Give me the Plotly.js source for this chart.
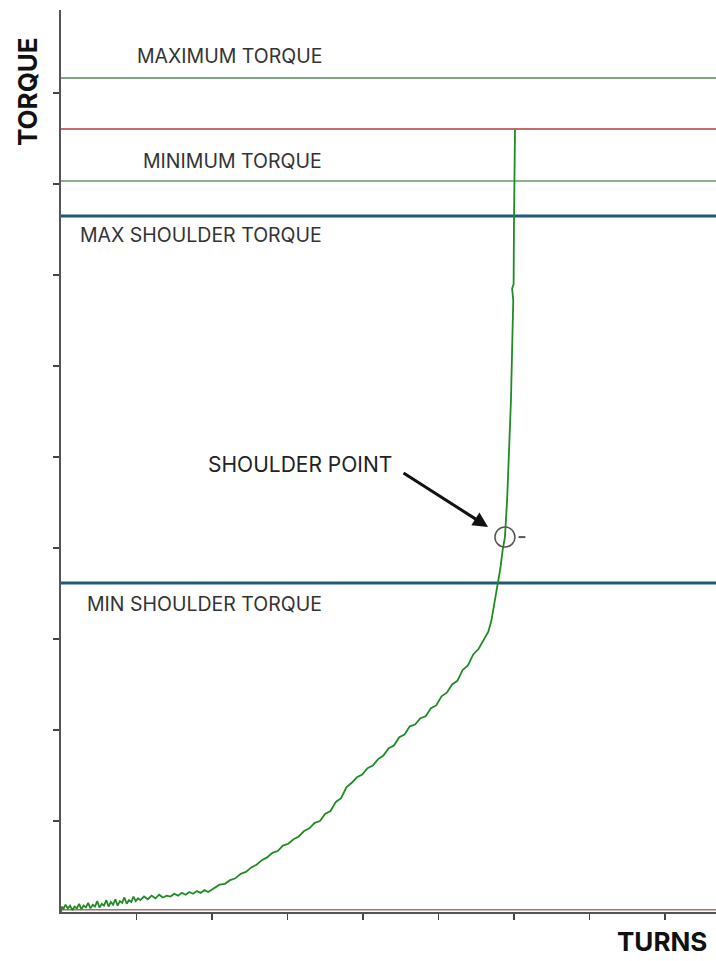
<!DOCTYPE html>
<html>
<head>
<meta charset="utf-8">
<script src="https://cdn.plot.ly/plotly-3.0.1.min.js"></script>
<style>html,body{margin:0;padding:0;background:#fff;}#chart{width:716px;height:961px;}</style>
</head>
<body>
<div id="chart"></div>
<script>
// Curve: turns vs torque
const turns = [
0.00,0.01,0.03,0.06,0.09,0.12,0.15,0.18,0.21,0.24,0.27,0.30,0.33,0.36,0.39,0.42,0.45,0.48,0.51,0.54,
0.57,0.60,0.63,0.66,0.69,0.72,0.75,0.78,0.81,0.84,0.87,0.90,0.93,0.96,0.99,1.02,1.05,
1.10,1.15,1.20,1.25,1.30,1.35,1.40,1.45,1.50,1.55,1.60,1.65,1.70,1.75,1.80,1.85,1.90,1.95,2.00,
2.05,2.10,2.17,2.24,2.31,2.38,2.45,2.52,2.59,2.66,2.73,2.80,2.87,2.94,3.01,3.08,3.15,3.22,3.29,3.36,
3.43,3.50,3.57,3.64,3.71,3.78,3.85,3.92,3.99,4.06,4.13,4.20,4.27,4.34,4.41,4.48,4.55,4.62,4.69,4.76,
4.83,4.90,4.97,5.04,5.11,5.18,5.25,5.32,5.39,5.46,5.53,5.60,5.66,5.70,5.74,5.78,5.82,5.85,5.88,
5.91,5.935,5.96,5.975,5.99,5.975,5.995,6.00,6.005,6.013
];
const torque = [
0.00,0.06,0.03,0.08,0.04,0.07,0.02,0.06,0.04,0.09,0.03,0.07,0.05,0.10,0.04,0.08,0.06,0.12,0.05,0.09,
0.07,0.13,0.06,0.11,0.08,0.14,0.07,0.12,0.10,0.16,0.09,0.13,0.11,0.17,0.12,0.15,0.13,
0.17,0.14,0.18,0.15,0.19,0.16,0.18,0.17,0.20,0.18,0.21,0.19,0.22,0.20,0.23,0.21,0.24,0.22,0.25,
0.27,0.30,0.31,0.35,0.37,0.42,0.44,0.49,0.52,0.57,0.60,0.65,0.67,0.73,0.75,0.80,0.83,0.89,0.92,0.98,
1.00,1.08,1.11,1.21,1.25,1.37,1.42,1.48,1.51,1.58,1.61,1.68,1.72,1.80,1.83,1.92,1.95,2.04,2.06,2.13,
2.15,2.24,2.27,2.37,2.41,2.50,2.54,2.66,2.71,2.83,2.89,3.00,3.08,3.20,3.38,3.56,3.78,3.98,4.12,
4.55,5.08,5.63,6.18,6.72,6.85,6.90,7.60,8.04,8.60
];

// Threshold levels (torque units)
const thresholdNames  = ["MAXIMUM TORQUE","FINAL TORQUE","MINIMUM TORQUE","MAX SHOULDER TORQUE","MIN SHOULDER TORQUE","BASELINE"];
const thresholdValues = [9.165, 8.604, 8.033, 7.648, 3.615, 0.025];

// Label positions (torque units)
const labelValues = [9.407, 8.253, 7.44, 3.385];
const labelTexts  = ["MAXIMUM TORQUE","MINIMUM TORQUE","MAX SHOULDER TORQUE","MIN SHOULDER TORQUE"];

// Shoulder point
const shoulderTurns = 5.88, shoulderTorque = 4.12;

const xTicks = [1,2,3,4,5,6,7,8];
const yTicks = [1,2,3,4,5,6,7,8,9];

const lineColors = ["#4f8a5c","#c46a6a","#5f9a6a","#1f5a7c","#1f5a7c","#b46a6a"];
const lineWidths = [1.5,2,1.5,3,3,1.5];

const shapes = thresholdValues.map((v,i)=>({
  type:'line', xref:'paper', yref:'y', x0:0, x1:1, y0:v, y1:v,
  line:{color:lineColors[i], width:lineWidths[i]}, layer:'below'
}));
shapes.push({
  type:'circle', xref:'x', yref:'y', xsizemode:'pixel', ysizemode:'pixel',
  xanchor:shoulderTurns, yanchor:shoulderTorque, x0:-10, x1:10, y0:-10, y1:10,
  line:{color:'#555', width:1.5}
});
shapes.push({
  type:'line', xref:'x', yref:'y', x0:shoulderTurns+0.18, x1:shoulderTurns+0.27,
  y0:shoulderTorque, y1:shoulderTorque, line:{color:'#555', width:2}
});

const fontFam = 'Inter, "Noto Sans", sans-serif';
const annotations = labelTexts.map((t,i)=>({
  x:3.483, y:labelValues[i], xref:'x', yref:'y', text:t, showarrow:false,
  xanchor:'right', yanchor:'middle', font:{family:fontFam, size:19.5, color:'#333'}
}));
annotations.push({
  x:4.411, y:4.923, xref:'x', yref:'y', text:'SHOULDER POINT', showarrow:false,
  xanchor:'right', yanchor:'middle', font:{family:fontFam, size:21, color:'#222'}
});
annotations.push({
  x:5.656, y:4.231, xref:'x', yref:'y', axref:'x', ayref:'y', ax:4.517, ay:4.835,
  text:'', showarrow:true, arrowhead:2, arrowsize:1, arrowwidth:3, arrowcolor:'#111'
});
const W=716,H=961,ml=61,mr=0,mt=10,mb=49;
const px2paperX = p => (p-ml)/(W-ml-mr);
const px2paperY = p => 1-(p-mt)/(H-mt-mb);
annotations.push({
  x:px2paperX(27), y:px2paperY(92), xref:'paper', yref:'paper', text:'<b>TORQUE</b>', showarrow:false, textangle:-90,
  xanchor:'center', yanchor:'middle', font:{family:fontFam, size:26, color:'#111'}
});
annotations.push({
  x:px2paperX(662), y:px2paperY(941), xref:'paper', yref:'paper', text:'<b>TURNS</b>', showarrow:false,
  xanchor:'center', yanchor:'middle', font:{family:fontFam, size:26, color:'#111'}
});

const trace = {
  x:turns, y:torque, type:'scatter', mode:'lines',
  line:{color:'#1f8c24', width:1.8}, hoverinfo:'skip'
};

const layout = {
  width:W, height:H, margin:{l:ml, r:mr, t:mt, b:mb},
  paper_bgcolor:'#fff', plot_bgcolor:'#fff', showlegend:false,
  xaxis:{range:[0, 655/75.5], showgrid:false, zeroline:false, showline:true, linecolor:'#555', linewidth:2,
    ticks:'outside', tickvals:xTicks, ticklen:6, tickwidth:1.5, tickcolor:'#444', showticklabels:false},
  yaxis:{range:[0, 902/91], showgrid:false, zeroline:false, showline:true, linecolor:'#555', linewidth:2,
    ticks:'outside', tickvals:yTicks, ticklen:6, tickwidth:1.5, tickcolor:'#444', showticklabels:false},
  shapes:shapes, annotations:annotations
};

Plotly.newPlot('chart',[trace],layout,{staticPlot:true, displayModeBar:false});
</script>
</body>
</html>
